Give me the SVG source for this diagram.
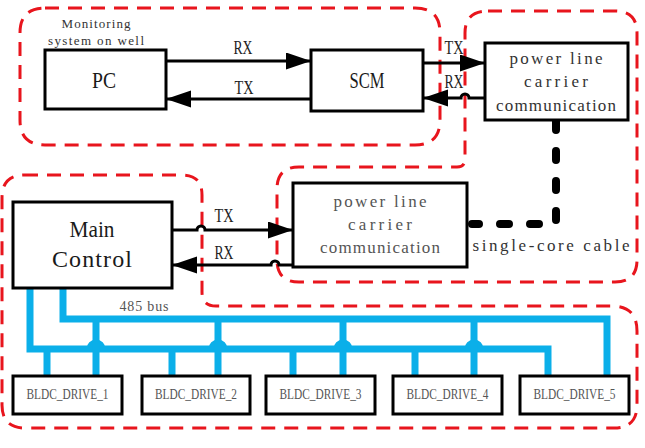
<svg xmlns="http://www.w3.org/2000/svg" width="645" height="448" viewBox="0 0 645 448">
<defs>
<marker id="ah" markerUnits="userSpaceOnUse" markerWidth="26" markerHeight="18" refX="25" refY="8.5" orient="auto"><path d="M0,0 L25,8.5 L0,17 Z" fill="#000"/></marker>
<style>
.region{fill:none;stroke:#e8151d;stroke-width:3;stroke-dasharray:14 9}
.box{fill:#fff;stroke:#000;stroke-width:3}
.t{font-family:"Liberation Serif","Times New Roman",serif;text-anchor:middle}
.big{font-size:24px;fill:#1a1a1a}
.plc{font-size:17px}
.lbl{font-size:18px;fill:#222}
.drv{font-size:15px;fill:#555}
.link{fill:none;stroke:#000;stroke-width:3}
.bus{fill:none;stroke:#0BAFE9;stroke-width:7}
.cable{fill:none;stroke:#000;stroke-width:8;stroke-linecap:round;stroke-dasharray:9 21}
</style>
</defs>
<rect width="645" height="448" fill="#fff"/>
<g id="regions">
<path class="region" d="M45,8 H415 Q440,8 440,33 V120 Q440,145 415,145 H45 Q20,145 20,120 V33 Q20,8 45,8 Z"/>
<path class="region" d="M488,11 H615 Q637,11 637,33 V260 Q637,282 615,282 H299 Q277,282 277,260 V189 Q277,167 299,167 H457 Q465,167 465,159 V33 Q465,11 488,11 Z"/>
<path class="region" d="M24,175 H182 Q202,175 202,195 V292 Q202,306 216,306 H612 Q637,306 637,331 V405 Q637,428 614,428 H25 Q2,428 2,405 V198 Q2,175 24,175 Z"/>
</g>
<g id="connectors">
<path class="link" d="M166,61 H311" marker-end="url(#ah)"/>
<path class="link" d="M311,99 H166" marker-end="url(#ah)"/>
<path class="link" d="M423,63 H485" marker-end="url(#ah)"/>
<path class="link" d="M485,98 H469 A4,4 0 0 0 461,98 H423" marker-end="url(#ah)"/>
<path class="link" d="M172,230 H197 A4,4 0 0 1 205,230 H293" marker-end="url(#ah)"/>
<path class="link" d="M293,265 H279 A4,4 0 0 0 271,265 H172" marker-end="url(#ah)"/>
<path class="cable" d="M556,121 V224 H472"/>
<path class="bus" d="M63,288 V319 H607 V376"/>
<path class="bus" d="M30,288 V349 H90 A6,6 0 0 1 102,349 H212 A6,6 0 0 1 224,349 H337 A6,6 0 0 1 349,349 H468 A6,6 0 0 1 480,349 H548 V376"/>
<path class="bus" d="M47,349 V376 M96,319 V376 M172,349 V376 M218,319 V376 M293,349 V376 M343,319 V376 M415,349 V376 M474,319 V376"/>
</g>
<g id="labels" class="t">
<text x="96" y="28" font-size="13" fill="#333" textLength="69" lengthAdjust="spacing">Monitoring</text>
<text x="96" y="45" font-size="13" fill="#333" textLength="96" lengthAdjust="spacing">system on well</text>
<text class="lbl" x="243" y="54" textLength="19" lengthAdjust="spacingAndGlyphs">RX</text>
<text class="lbl" x="244" y="94" textLength="19" lengthAdjust="spacingAndGlyphs">TX</text>
<text class="lbl" x="454" y="54" textLength="19" lengthAdjust="spacingAndGlyphs">TX</text>
<text class="lbl" x="454" y="88" textLength="19" lengthAdjust="spacingAndGlyphs">RX</text>
<text class="lbl" x="224" y="222" textLength="19" lengthAdjust="spacingAndGlyphs">TX</text>
<text class="lbl" x="224" y="259" textLength="19" lengthAdjust="spacingAndGlyphs">RX</text>
<text x="144" y="311" font-size="14" fill="#555" textLength="49" lengthAdjust="spacing">485 bus</text>
<text x="551" y="251" font-size="17" fill="#333" textLength="157" lengthAdjust="spacing">single-core cable</text>
</g>
<g id="pc">
<rect class="box" x="45" y="50" width="121" height="59"/>
<text class="t big" x="104" y="88" textLength="24" lengthAdjust="spacingAndGlyphs">PC</text>
</g>
<g id="scm">
<rect class="box" x="311" y="50" width="112" height="61"/>
<text class="t big" x="367" y="88" textLength="35" lengthAdjust="spacingAndGlyphs">SCM</text>
</g>
<g id="plc-top">
<rect class="box" x="485" y="43" width="143" height="77"/>
<text class="t plc" fill="#333" x="556" y="64" textLength="93" lengthAdjust="spacing">power line</text>
<text class="t plc" fill="#333" x="556" y="87" textLength="64" lengthAdjust="spacing">carrier</text>
<text class="t plc" fill="#333" x="556" y="111" textLength="120" lengthAdjust="spacing">communication</text>
</g>
<g id="main-control">
<rect class="box" x="13" y="202" width="159" height="86"/>
<text class="t big" x="92" y="237" textLength="45" lengthAdjust="spacingAndGlyphs">Main</text>
<text class="t big" x="92" y="267" textLength="80" lengthAdjust="spacing">Control</text>
</g>
<g id="plc-bottom">
<rect class="box" x="293" y="183" width="174" height="84"/>
<text class="t plc" fill="#555" x="380" y="207" textLength="93" lengthAdjust="spacing">power line</text>
<text class="t plc" fill="#555" x="380" y="230" textLength="64" lengthAdjust="spacing">carrier</text>
<text class="t plc" fill="#555" x="380" y="253" textLength="120" lengthAdjust="spacing">communication</text>
</g>
<g id="bldc1">
<rect class="box" x="13" y="376" width="109" height="38"/>
<text class="t drv" x="67.5" y="399" textLength="82" lengthAdjust="spacingAndGlyphs">BLDC_DRIVE_1</text>
</g>
<g id="bldc2">
<rect class="box" x="142" y="376" width="108" height="38"/>
<text class="t drv" x="196" y="399" textLength="82" lengthAdjust="spacingAndGlyphs">BLDC_DRIVE_2</text>
</g>
<g id="bldc3">
<rect class="box" x="266" y="376" width="109" height="38"/>
<text class="t drv" x="320.5" y="399" textLength="82" lengthAdjust="spacingAndGlyphs">BLDC_DRIVE_3</text>
</g>
<g id="bldc4">
<rect class="box" x="393" y="376" width="109" height="38"/>
<text class="t drv" x="447.5" y="399" textLength="82" lengthAdjust="spacingAndGlyphs">BLDC_DRIVE_4</text>
</g>
<g id="bldc5">
<rect class="box" x="520" y="376" width="109" height="38"/>
<text class="t drv" x="574.5" y="399" textLength="82" lengthAdjust="spacingAndGlyphs">BLDC_DRIVE_5</text>
</g>
</svg>
